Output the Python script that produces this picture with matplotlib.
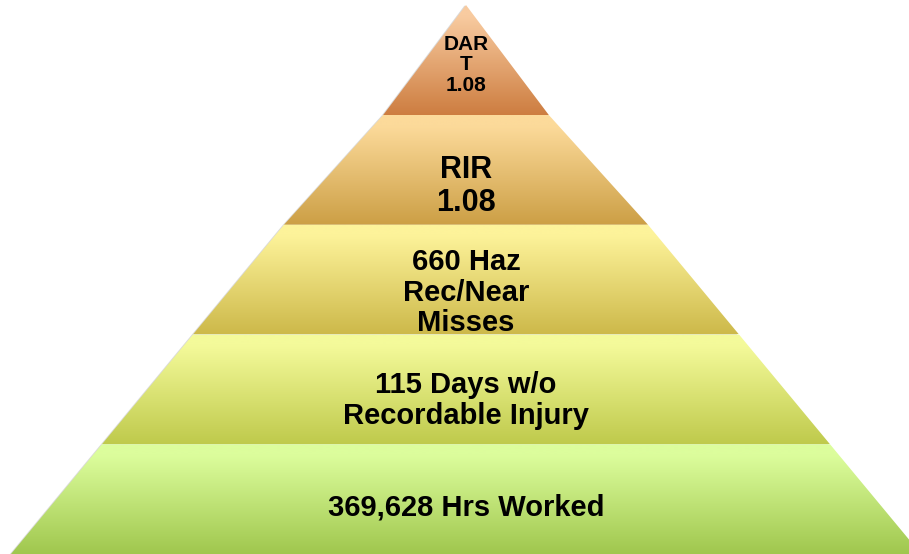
import matplotlib
matplotlib.use("Agg")
import matplotlib.pyplot as plt
import numpy as np
from matplotlib.colors import LinearSegmentedColormap
from matplotlib.patches import Polygon

# levels, top to bottom
labels = [
    "DAR\nT\n1.08",
    "RIR\n1.08",
    "660 Haz\nRec/Near\nMisses",
    "115 Days w/o\nRecordable Injury",
    "369,628 Hrs Worked",
]
font_sizes = [15, 22, 21, 21, 21]
text_shift = [5, 17, 13, 11, 8]      # text sits a little below the band centre
top_colors = ["#f8cba0", "#fcda9a", "#fdf39a", "#f4fa9a", "#dcfd9c"]
bottom_colors = ["#cd7d40", "#cc9f45", "#cdb94a", "#bfca4c", "#a0c74e"]

W, H = 909, 554
CX = 466          # pyramid centre
APEX_Y = 5
BASE_Y = 554
BASE_HALF = 455
TOP_Y = 115       # bottom of the tip triangle

n = len(labels)
step = (BASE_Y - TOP_Y) / (n - 1)
unit = BASE_HALF / n


def half_width(k):
    # half width at the k-th boundary (0 = apex)
    if k == 0:
        return 0.0
    if k == 1:
        return unit * 0.91
    return unit * k


fig = plt.figure(figsize=(W / 100, H / 100), dpi=100)
ax = fig.add_axes([0, 0, 1, 1])
ax.set_xlim(0, W)
ax.set_ylim(H, 0)
ax.axis("off")

for i, (lab, fs, dy, c0, c1) in enumerate(
        zip(labels, font_sizes, text_shift, top_colors, bottom_colors)):
    y0 = APEX_Y if i == 0 else TOP_Y + (i - 1) * step
    y1 = TOP_Y + i * step
    h0, h1 = half_width(i), half_width(i + 1)
    verts = [(CX - h0, y0), (CX + h0, y0), (CX + h1, y1), (CX - h1, y1)]

    # soft shadow on the left edge
    shadow = Polygon([(x - 1.5, y + 0.5) for x, y in verts], closed=True,
                     facecolor="#dadada", edgecolor="none", zorder=1)
    ax.add_patch(shadow)

    poly = Polygon(verts, closed=True, facecolor="none", edgecolor="none", zorder=2)
    ax.add_patch(poly)
    cmap = LinearSegmentedColormap.from_list(
        f"g{i}", [(0, c0), (0.1, c0), (1, c1)], N=256)
    grad = np.linspace(0, 1, 256).reshape(-1, 1)
    im = ax.imshow(grad, cmap=cmap, aspect="auto",
                   extent=(CX - h1, CX + h1, y1, y0), zorder=2,
                   interpolation="bilinear")
    im.set_clip_path(poly)

    ax.text(CX, (y0 + y1) / 2 + dy, lab, ha="center", va="center", fontsize=fs,
            fontweight="bold", family=["Liberation Sans", "DejaVu Sans"],
            linespacing=1.13, zorder=3)

fig.savefig("out.png", dpi=100, facecolor="white")
